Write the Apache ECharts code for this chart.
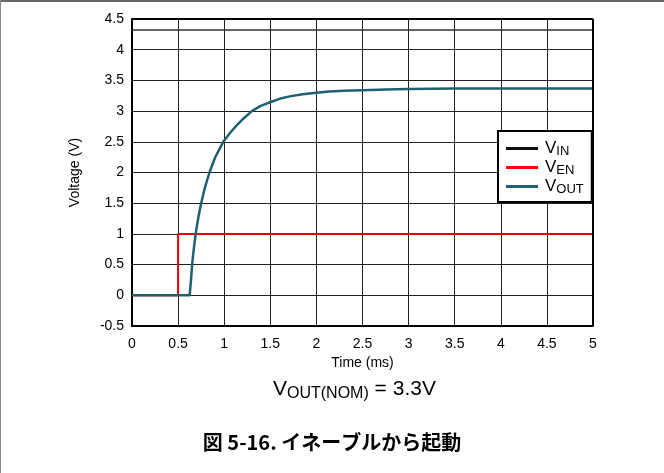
<!DOCTYPE html>
<html>
<head>
<meta charset="utf-8">
<script src="https://cdn.jsdelivr.net/npm/echarts@6/dist/echarts.min.js"></script>
<style>
html,body{margin:0;padding:0;background:#fff;}
#chart{width:664px;height:473px;}
</style>
</head>
<body>
<div id="chart"></div>
<script>
// ---- data ----
const seriesNames = ['VIN', 'VEN', 'VOUT'];
const vinTime = [0, 5];
const vinVolt = [4.32, 4.32];
const venTime = [0, 0.5, 0.5, 5];
const venVolt = [0, 0, 1, 1];
const voutTime = [0, 0.625, 0.64, 0.655, 0.67, 0.69, 0.72, 0.75, 0.79, 0.84, 0.9, 0.99, 1.06, 1.13, 1.21, 1.3, 1.39, 1.49, 1.6, 1.71, 1.85, 2.0, 2.14, 2.3, 2.5, 2.75, 3.0, 3.5, 4.0, 4.5, 5.0];
const voutVolt = [0, 0, 0.25, 0.55, 0.75, 1.0, 1.27, 1.5, 1.75, 2.0, 2.24, 2.5, 2.64, 2.76, 2.88, 3.0, 3.08, 3.14, 3.2, 3.24, 3.275, 3.30, 3.32, 3.33, 3.34, 3.35, 3.36, 3.37, 3.37, 3.37, 3.37];
const subscripts = {VIN: 'IN', VEN: 'EN', VOUT: 'OUT'};
const xTitle = 'Time (ms)';
const yTitle = 'Voltage (V)';
const noteMain = 'V', noteSub = 'OUT(NOM)', noteTail = ' = 3.3V';
const caption = '図 5-16. イネーブルから起動';

function pairs(t, v) { return t.map((x, i) => [x, v[i]]); }

const FONT = '"Liberation Sans", Arial, sans-serif';
const chart = echarts.init(document.getElementById('chart'));
chart.setOption({
  animation: false,
  backgroundColor: '#fff',
  grid: {left: 132, right: 71, top: 19, bottom: 147, show: false},
  xAxis: {
    type: 'value', min: 0, max: 5, interval: 0.5,
    name: xTitle, nameLocation: 'middle', nameGap: 27,
    nameTextStyle: {fontFamily: FONT, fontSize: 14, color: '#000'},
    axisLine: {show: true, onZero: false, lineStyle: {color: '#000', width: 2}},
    axisTick: {show: false},
    axisLabel: {fontFamily: FONT, fontSize: 14, color: '#000', margin: 11},
    splitLine: {show: true, lineStyle: {color: '#222', width: 1}}
  },
  yAxis: {
    type: 'value', min: -0.5, max: 4.5, interval: 0.5,
    name: yTitle, nameLocation: 'middle', nameGap: 50,
    nameTextStyle: {fontFamily: FONT, fontSize: 14, color: '#000'},
    axisLine: {show: true, onZero: false, lineStyle: {color: '#000', width: 2}},
    axisTick: {show: false},
    axisLabel: {fontFamily: FONT, fontSize: 14, color: '#000', margin: 8},
    splitLine: {show: true, lineStyle: {color: '#222', width: 1}}
  },
  legend: {
    orient: 'vertical', left: 498, top: 131,
    data: seriesNames,
    backgroundColor: '#fff', borderColor: '#000', borderWidth: 2,
    padding: [8, 8, 6, 8], itemGap: 0,
    icon: 'rect', itemWidth: 32, itemHeight: 3,
    formatter: n => '{v|V}{s|' + subscripts[n] + '}',
    textStyle: {
      fontFamily: FONT, color: '#000', padding: [0, 0, 0, 2],
      rich: {
        v: {fontFamily: FONT, fontSize: 17, lineHeight: 18, color: '#000'},
        s: {fontFamily: FONT, fontSize: 13, lineHeight: 18, color: '#000', padding: [6, 0, 0, 0]}
      }
    }
  },
  graphic: [
    {type: 'line', shape: {x1: 0, y1: 1, x2: 664, y2: 1}, style: {stroke: '#666', lineWidth: 2}, silent: true},
    {type: 'line', shape: {x1: 0.5, y1: 0, x2: 0.5, y2: 473}, style: {stroke: '#888', lineWidth: 1}, silent: true},
    {type: 'line', shape: {x1: 132, y1: 19, x2: 593, y2: 19}, style: {stroke: '#000', lineWidth: 2}, silent: true, z: 10},
    {type: 'line', shape: {x1: 593, y1: 19, x2: 593, y2: 326}, style: {stroke: '#000', lineWidth: 2}, silent: true, z: 10},
    {
      type: 'text', left: 273, top: 376,
      style: {
        text: '{a|' + noteMain + '}{b|' + noteSub + '}{a|' + noteTail + '}',
        rich: {
          a: {fontFamily: FONT, fontSize: 21, lineHeight: 26, fill: '#000'},
          b: {fontFamily: FONT, fontSize: 16, lineHeight: 26, fill: '#000', padding: [10, 0, 0, 0]}
        }
      }
    },
    {
      type: 'text', left: 'center', top: 432,
      style: {text: caption, fontFamily: '"Noto Sans CJK JP", sans-serif', fontWeight: 'bold', fontSize: 20, fill: '#000'}
    }
  ],
  series: [
    {name: 'VIN', type: 'line', data: pairs(vinTime, vinVolt), showSymbol: false, color: '#111', lineStyle: {width: 1.5, color: '#333'}},
    {name: 'VEN', type: 'line', data: pairs(venTime, venVolt), showSymbol: false, color: '#ff0000', lineStyle: {width: 2, color: '#ee0000'}},
    {name: 'VOUT', type: 'line', data: pairs(voutTime, voutVolt), showSymbol: false, smooth: false, color: '#1e6070', lineStyle: {width: 2.5, color: '#1e6070', join: 'round'}}
  ]
});
</script>
</body>
</html>
